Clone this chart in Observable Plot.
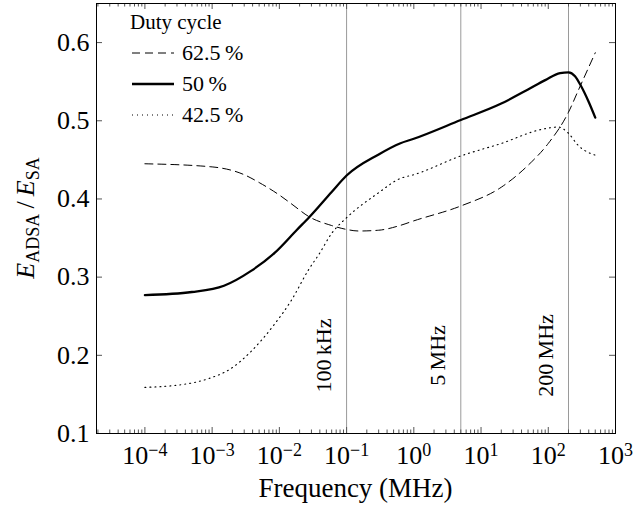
<!DOCTYPE html>
<html><head><meta charset="utf-8">
<script src="https://cdn.jsdelivr.net/npm/d3@7"></script>
<script src="https://cdn.jsdelivr.net/npm/@observablehq/plot@0.6"></script>
<style>
body{margin:0;background:#fff}
</style>
</head><body><div id="chart"></div>
<script>
// Duty cycle 50 %
const freq50 = [1e-4, 5e-4, 1.5e-3, 3.8e-3, 8.5e-3, 0.018, 0.028, 0.06, 0.1, 0.3, 0.62, 1, 5, 20, 50, 90, 150, 200, 250, 300, 400, 500];
const val50  = [0.277, 0.281, 0.289, 0.308, 0.331, 0.360, 0.377, 0.409, 0.430, 0.457, 0.471, 0.477, 0.501, 0.522, 0.540, 0.552, 0.561, 0.562, 0.557, 0.546, 0.524, 0.504];
// Duty cycle 62.5 %
const freq625 = [1e-4, 1e-3, 3e-3, 5e-3, 1e-2, 1.5e-2, 0.028, 0.06, 0.1, 0.15, 0.3, 0.62, 1, 5, 20, 50, 100, 200, 280, 500];
const val625  = [0.445, 0.441, 0.431, 0.421, 0.405, 0.394, 0.377, 0.366, 0.361, 0.359, 0.360, 0.366, 0.372, 0.391, 0.415, 0.443, 0.471, 0.511, 0.539, 0.587];
// Duty cycle 42.5 %
const freq425 = [1e-4, 3.9e-4, 8.7e-4, 1.9e-3, 3.8e-3, 8.5e-3, 0.015, 0.027, 0.04, 0.06, 0.1, 0.3, 0.62, 1, 5, 20, 80, 140, 200, 275, 500];
const val425  = [0.159, 0.163, 0.170, 0.183, 0.205, 0.240, 0.270, 0.309, 0.331, 0.356, 0.376, 0.408, 0.426, 0.431, 0.455, 0.471, 0.489, 0.492, 0.484, 0.469, 0.456];

const markerFreqs  = [0.1, 5, 200];
const markerLabels = ["100\u2009kHz", "5\u2009MHz", "200\u2009MHz"];

const xMajorTicks = [1e-4, 1e-3, 1e-2, 1e-1, 1, 10, 100, 1000];
const xTickExps   = ["\u22124", "\u22123", "\u22122", "\u22121", "0", "1", "2", "3"];
const yTicks = [0.1, 0.2, 0.3, 0.4, 0.5, 0.6];

const seriesNames = ["62.5\u2009%", "50\u2009%", "42.5\u2009%"];

const xMinorTicks = [];
for (let e = -5; e <= 2; e++) for (let k = 2; k <= 9; k++) {
  const v = k * Math.pow(10, e);
  if (v > Math.pow(10, -4.72)) xMinorTicks.push(v);
}

const FONT = '"Liberation Serif", "Times New Roman", serif';
const toRows = (f, v) => f.map((d, i) => ({f: d, v: v[i]}));
const s50 = toRows(freq50, val50), s625 = toRows(freq625, val625), s425 = toRows(freq425, val425);
const markers = markerFreqs.map((f, i) => ({f, label: markerLabels[i]}));

const W = 633, H = 510, mL = 96, mR = 18, mT = 3, mB = 77;
const fw = W - mL - mR, fh = H - mT - mB;

const chart = Plot.plot({
  width: W, height: H,
  marginLeft: mL, marginRight: mR, marginTop: mT, marginBottom: mB,
  style: {fontFamily: FONT, fontSize: "26px", color: "black", background: "#fff"},
  x: {type: "log", domain: [Math.pow(10, -4.72), 1000]},
  y: {domain: [0.1, 0.65]},
  marks: [
    Plot.ruleX(markers, {x: "f", stroke: "#9a9a9a", strokeWidth: 1}),
    Plot.text(markers, {x: "f", text: "label", rotate: -90, frameAnchor: "bottom", dy: -78, dx: -16,
      textAnchor: "middle", fontSize: 22, fontFamily: FONT, fill: "black"}),
    // inward ticks (bottom/top x, left/right y)
    Plot.tickX(xMajorTicks, {x: d => d, insetTop: fh - 6, stroke: "#555"}),
    Plot.tickX(xMajorTicks, {x: d => d, insetBottom: fh - 6, stroke: "#555"}),
    Plot.tickX(xMinorTicks, {x: d => d, insetTop: fh - 3.5, stroke: "#555"}),
    Plot.tickX(xMinorTicks, {x: d => d, insetBottom: fh - 3.5, stroke: "#555"}),
    Plot.tickY(yTicks, {y: d => d, insetRight: fw - 6, stroke: "#555"}),
    Plot.tickY(yTicks, {y: d => d, insetLeft: fw - 6, stroke: "#555"}),
    Plot.axisX({ticks: xMajorTicks, tickSize: 0, tickPadding: 12, tickFormat: d => "10", label: null, fontSize: 26, fontFamily: FONT}),
    Plot.axisY({ticks: yTicks, tickSize: 0, tickPadding: 7, tickFormat: d3.format(".1f"), label: null, fontSize: 26, fontFamily: FONT}),
    Plot.line(s625, {x: "f", y: "v", stroke: "black", strokeWidth: 1, strokeDasharray: "8,5", curve: "monotone-x"}),
    Plot.line(s50, {x: "f", y: "v", stroke: "black", strokeWidth: 2.3, curve: "monotone-x"}),
    Plot.line(s425, {x: "f", y: "v", stroke: "black", strokeWidth: 1.1, strokeDasharray: "1,4", curve: "monotone-x"}),
    Plot.frame({stroke: "black", strokeWidth: 1})
  ]
});

document.getElementById("chart").appendChild(chart);
const svg = d3.select(chart);
svg.attr("font-family", FONT).style("font-family", FONT);

// superscript exponents on x tick labels
svg.selectAll('g[aria-label="x-axis tick label"] text').each(function(d, i) {
  const t = d3.select(this);
  t.text("10");
  t.append("tspan").attr("dy", "-0.45em").attr("font-size", "18px").text(xTickExps[i]);
});

// x axis label
svg.append("text").attr("x", mL + fw / 2).attr("y", 497).attr("text-anchor", "middle")
  .attr("font-family", FONT).attr("font-size", 27).attr("fill", "black").text("Frequency (MHz)");

// y axis label: E_ADSA / E_SA
const yl = svg.append("text").attr("transform", `translate(34,${mT + fh / 2}) rotate(-90)`)
  .attr("text-anchor", "middle").attr("font-family", FONT).attr("font-size", 26).attr("fill", "black");
yl.append("tspan").attr("font-style", "italic").text("E");
yl.append("tspan").attr("font-size", 18).attr("dy", "5").text("ADSA");
yl.append("tspan").attr("dy", "-5").text("\u2009/\u2009");
yl.append("tspan").attr("font-style", "italic").text("E");
yl.append("tspan").attr("font-size", 18).attr("dy", "5").text("SA");

// legend
const lg = svg.append("g").attr("fill", "black").attr("text-anchor", "start").attr("font-family", FONT);
lg.append("text").attr("x", 130).attr("y", 29).attr("font-size", 21).text("Duty cycle");
const styles = [
  {w: 1, dash: "8,5"},
  {w: 2.3, dash: null},
  {w: 1.1, dash: "1,4"}
];
seriesNames.forEach((name, i) => {
  const y = 53 + i * 31;
  const ln = lg.append("line").attr("x1", 132).attr("x2", 174).attr("y1", y).attr("y2", y)
    .attr("stroke", "black").attr("stroke-width", styles[i].w);
  if (styles[i].dash) ln.attr("stroke-dasharray", styles[i].dash);
  lg.append("text").attr("x", 182).attr("y", y + 7).attr("font-size", 22).text(name);
});
svg.selectAll("text").style("font-family", FONT);
</script>
</body></html>
